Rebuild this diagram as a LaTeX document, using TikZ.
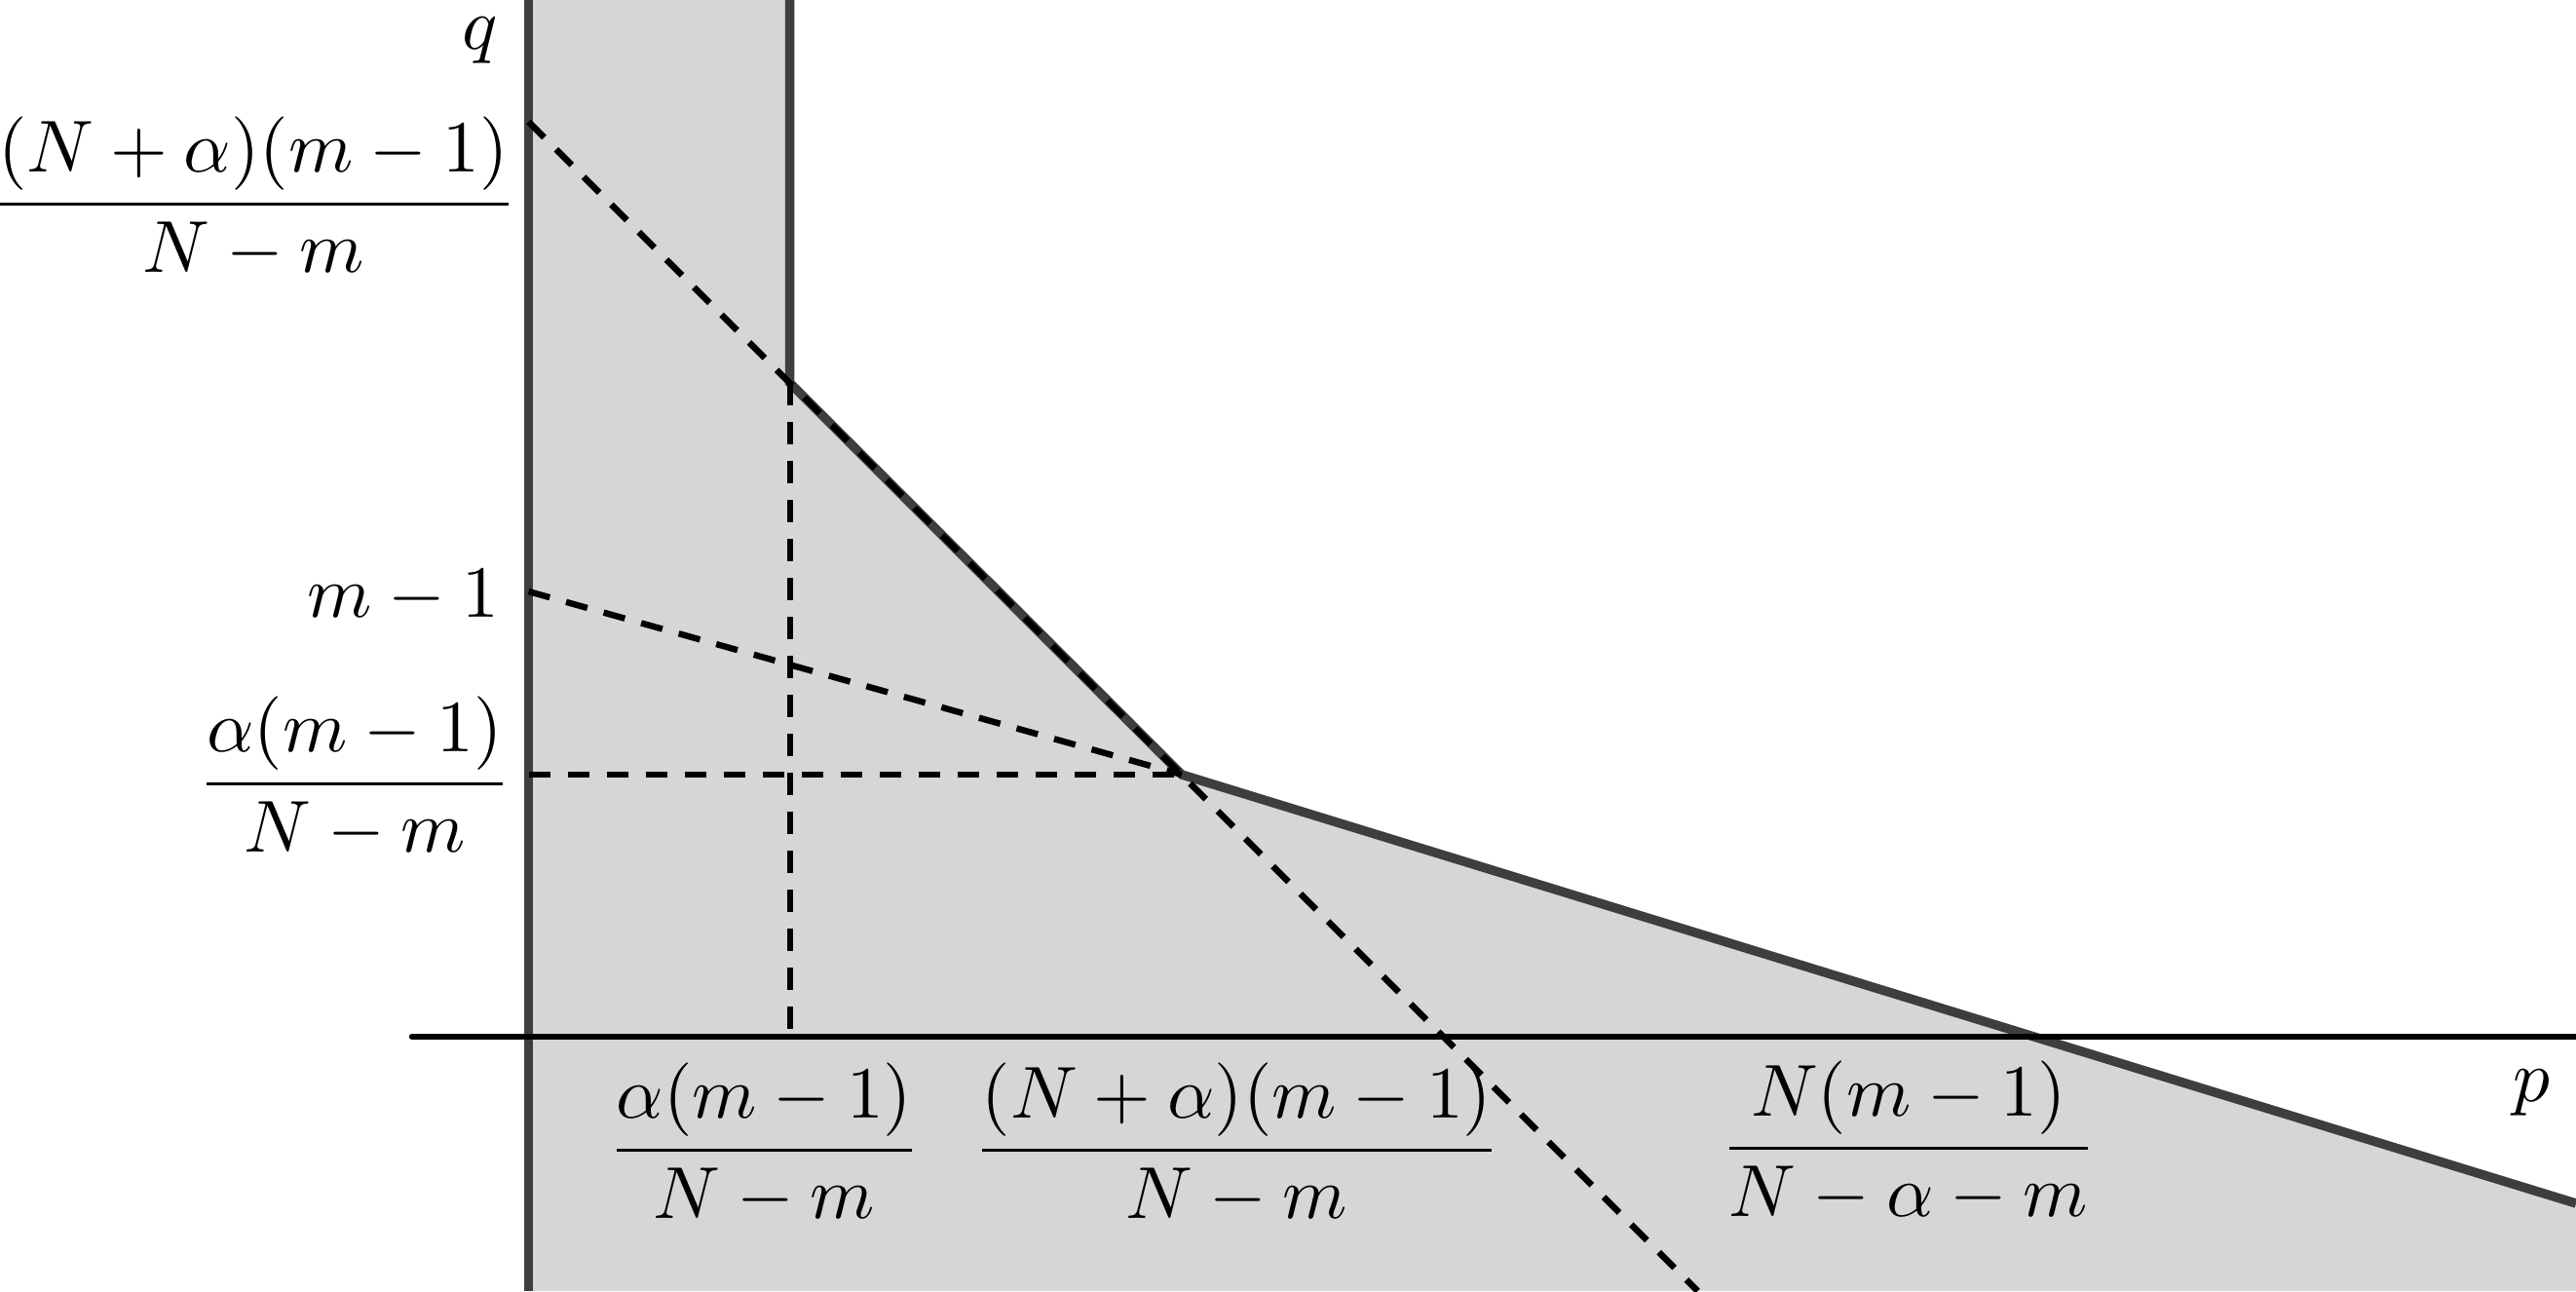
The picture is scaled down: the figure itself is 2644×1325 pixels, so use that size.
\documentclass[tikz,border=0pt]{standalone}
\usepackage{amsmath}
\definecolor{regionfill}{RGB}{214,214,214}
\definecolor{boundgray}{RGB}{62,62,62}
\begin{document}
\begin{tikzpicture}[x=0.13245pt,y=-0.13245pt,
  bound/.style={draw=boundgray,line width=1.25pt},
  axisline/.style={draw=black,line width=0.85pt,line cap=round},
  guide/.style={draw=black,line width=0.85pt,dash pattern=on 3pt off 2.3pt},
  lbl/.style={inner sep=0pt,outer sep=0pt,text=black}]
\useasboundingbox (0,0) rectangle (2644,1325);
% key points (pixel coordinates, y downwards)
\coordinate (qtop) at (542.5,0);
\coordinate (qbot) at (542.5,1325);
\coordinate (vtop) at (810.7,0);
\coordinate (vmeet) at (810.7,393);
\coordinate (corner) at (1213,795);
\coordinate (rend) at (2644,1235);
\coordinate (rbot) at (2644,1325);
\coordinate (pleft) at (423,1064);
\coordinate (pright) at (2644,1064);
\coordinate (vfoot) at (810.7,1064);
\coordinate (Kq) at (542.5,125);
\coordinate (Kend) at (1742.5,1325);
\coordinate (Mq) at (542.5,607);
\coordinate (aq) at (542.5,795);
% shaded region
\fill[regionfill] (qtop) -- (vtop) -- (vmeet) -- (corner) -- (rend) -- (rbot) -- (qbot) -- cycle;
% boundaries
\draw[bound] (qtop) -- (qbot);
\draw[bound] (vtop) -- (vmeet) -- (corner) -- (rend);
% p axis
\draw[axisline] (pleft) -- (pright);
% dashed guides
\draw[guide] (Kq) -- (Kend);
\draw[guide] (Mq) -- (corner);
\draw[guide] (aq) -- (corner);
\draw[guide] (vmeet) -- (vfoot);
% labels
\node[lbl,anchor=base east] (lq) at (511,50) {$q$};
\node[lbl,anchor=base east] (lK) at (531,228) {$\dfrac{(N+\alpha)(m-1)}{N-m}$};
\node[lbl,anchor=base east] (lM) at (512,633) {$m-1$};
\node[lbl,anchor=base east] (la) at (525,823) {$\dfrac{\alpha(m-1)}{N-m}$};
\node[lbl,anchor=base] (lpa) at (784.5,1199) {$\dfrac{\alpha(m-1)}{N-m}$};
\node[lbl,anchor=base] (lpK) at (1269.5,1199) {$\dfrac{(N+\alpha)(m-1)}{N-m}$};
\node[lbl,anchor=base] (lpN) at (1959,1197) {$\dfrac{N(m-1)}{N-\alpha-m}$};
\node[lbl,anchor=base] (lp) at (2598,1130) {$p$};
\end{tikzpicture}
\end{document}
